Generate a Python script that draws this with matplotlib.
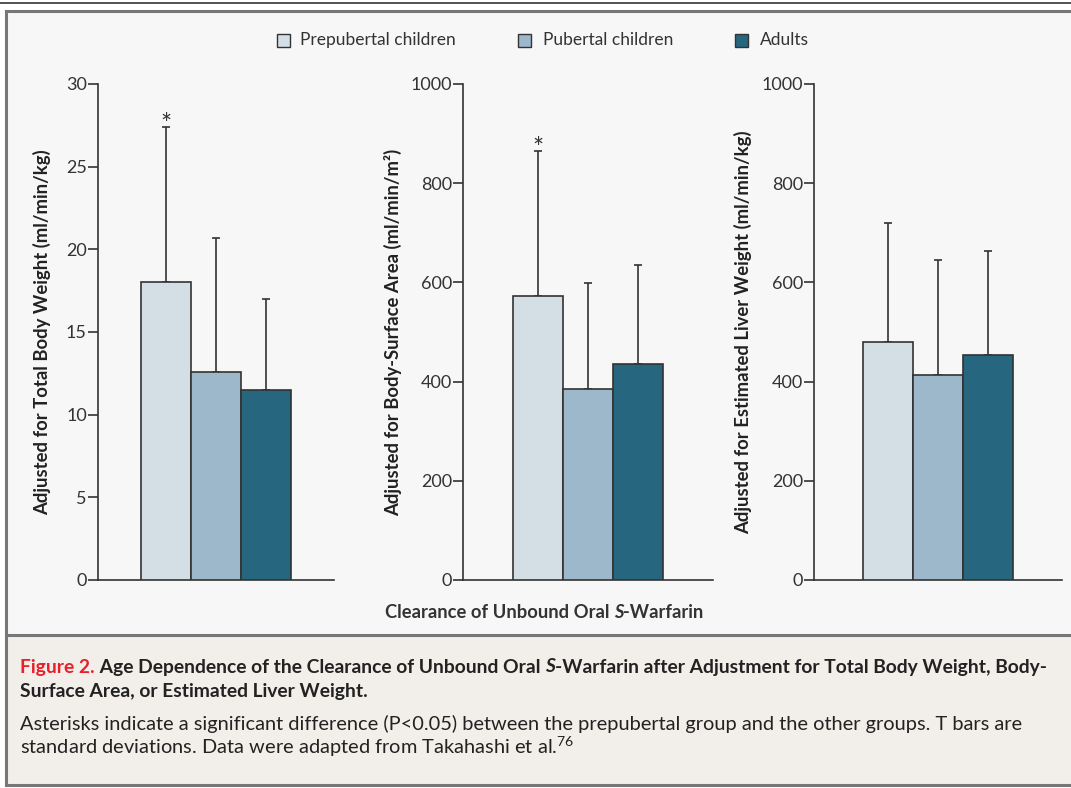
import matplotlib
matplotlib.use("Agg")
import matplotlib.pyplot as plt
from matplotlib.patches import Rectangle
from matplotlib.lines import Line2D

plt.rcParams["font.family"] = ["Lato", "DejaVu Sans"]
plt.rcParams["mathtext.fontset"] = "custom"
plt.rcParams["mathtext.rm"] = "Lato"
plt.rcParams["mathtext.it"] = "Lato:italic"
plt.rcParams["mathtext.bf"] = "Lato:bold"

groups = ["Prepubertal children", "Pubertal children", "Adults"]
colors = ["#d3dee5", "#9cb8ca", "#26677f"]

body_weight_mean = [18.0, 12.6, 11.5]
body_weight_sd = [9.4, 8.1, 5.5]
surface_area_mean = [572, 385, 436]
surface_area_sd = [292, 213, 200]
liver_weight_mean = [479, 414, 454]
liver_weight_sd = [240, 232, 210]

ylabels = [
    "Adjusted for Total Body Weight (ml/min/kg)",
    "Adjusted for Body-Surface Area (ml/min/m²)",
    "Adjusted for Estimated Liver Weight (ml/min/kg)",
]
yticks = [[0, 5, 10, 15, 20, 25, 30], [0, 200, 400, 600, 800, 1000], [0, 200, 400, 600, 800, 1000]]
ylims = [30, 1000, 1000]
significant = [True, True, False]

W, H = 1071, 788
fig = plt.figure(figsize=(W / 100, H / 100), dpi=100)
fig.patch.set_facecolor("white")
renderer = fig.canvas.get_renderer()


def px(x0, y0, x1, y1):
    # pixel box -> figure fraction [left, bottom, width, height]
    return [x0 / W, 1 - y1 / H, (x1 - x0) / W, (y1 - y0) / H]


def text_run(x, y, pieces, center=False, **kw):
    # draw (string, style, color) pieces one after another, x/y in pixels
    texts = [fig.text(0, 1 - y / H, s, ha="left", va="center", style=st, color=c, **kw)
             for s, st, c in pieces]
    widths = [t.get_window_extent(renderer).width for t in texts]
    xpos = x - sum(widths) / 2 if center else x
    for t, w in zip(texts, widths):
        t.set_x(xpos / W)
        xpos += w
    return xpos


# frame and backgrounds (behind the axes)
fig.add_artist(Line2D([0, 1], [1 - 3 / H] * 2, color="#333333", lw=1.2, zorder=-5))
fig.add_artist(Rectangle((6 / W, 1 - 635 / H), 1.2, (635 - 11) / H,
                         facecolor="#f7f7f7", edgecolor="none", zorder=-10))
fig.add_artist(Rectangle((6 / W, 1 - 785 / H), 1.2, (785 - 635) / H,
                         facecolor="#f2eee9", edgecolor="none", zorder=-10))
for yy in [11, 635, 785]:
    fig.add_artist(Line2D([6 / W, 1], [1 - yy / H] * 2, color="#777777", lw=2.2, zorder=-5))
fig.add_artist(Line2D([6 / W] * 2, [1 - 785 / H, 1 - 11 / H], color="#777777", lw=2.2, zorder=-5))

# panel boxes in pixels: axis x, axis right end, first bar left edge
panels = [(98, 334, 141), (463, 713, 513), (814, 1062, 863)]
means = [body_weight_mean, surface_area_mean, liver_weight_mean]
sds = [body_weight_sd, surface_area_sd, liver_weight_sd]
label_x = [42, 393, 743]

for i, (ax_l, ax_r, bar_l) in enumerate(panels):
    ax = fig.add_axes(px(ax_l, 84, ax_r, 580))
    ax.set_facecolor("none")
    bw = 50.0
    xl = -0.5 - (bar_l - ax_l) / bw
    xr = xl + (ax_r - ax_l) / bw
    x = range(3)
    ax.bar(x, means[i], width=1.0, color=colors, edgecolor="#333333", linewidth=1.2, zorder=3)
    ax.errorbar(x, means[i], yerr=[[0, 0, 0], sds[i]], fmt="none", ecolor="#333333",
                elinewidth=1.2, capsize=3, capthick=1.2, zorder=2)
    if significant[i]:
        top = means[i][0] + sds[i][0]
        ax.annotate("*", (0, top), xytext=(0, -4), textcoords="offset points",
                    ha="center", va="baseline", fontsize=19, color="#333333")
    ax.set_xlim(xl, xr)
    ax.set_ylim(0, ylims[i])
    ax.set_yticks(yticks[i])
    ax.set_xticks([])
    for s in ["top", "right"]:
        ax.spines[s].set_visible(False)
    for s in ["left", "bottom"]:
        ax.spines[s].set_color("#333333")
        ax.spines[s].set_linewidth(1.2)
    ax.tick_params(axis="y", length=7, width=1.2, color="#333333", labelsize=13,
                   labelcolor="#333333", pad=1)
    fig.text(label_x[i] / W, 1 - 332 / H, ylabels[i], rotation=90, ha="center", va="center",
             fontsize=13.3, fontweight="bold", color="#222222")

# legend
leg_items = [(277, 300), (518, 543), (735, 760)]
for (sx, tx), g, c in zip(leg_items, groups, colors):
    fig.add_artist(Rectangle((sx / W, 1 - 47 / H), 13 / W, 13 / H, facecolor=c,
                             edgecolor="#333333", lw=1.0))
    fig.text(tx / W, 1 - 40 / H, g, ha="left", va="center", fontsize=12.5, color="#333333")

# x title with italic S
text_run(544, 612, [("Clearance of Unbound Oral ", "normal", "#333333"),
                    ("S", "italic", "#333333"),
                    ("-Warfarin", "normal", "#333333")],
         center=True, fontsize=13.2, fontweight="bold")

# caption
text_run(20, 667, [("Figure 2.", "normal", "#e8202a"),
                   (" Age Dependence of the Clearance of Unbound Oral ", "normal", "#222222"),
                   ("S", "italic", "#222222"),
                   ("-Warfarin after Adjustment for Total Body Weight, Body-", "normal", "#222222")],
         fontsize=13.9, fontweight="bold")
fig.text(20 / W, 1 - 692 / H, "Surface Area, or Estimated Liver Weight.",
         ha="left", va="center", fontsize=13.9, fontweight="bold", color="#222222")
fig.text(20 / W, 1 - 724 / H,
         "Asterisks indicate a significant difference (P<0.05) between the prepubertal group and the other groups. T bars are",
         ha="left", va="center", fontsize=14.4, color="#222222")
fig.text(20 / W, 1 - 747 / H, "standard deviations. Data were adapted from Takahashi et al.$^{76}$",
         ha="left", va="center", fontsize=14.4, color="#222222")

fig.savefig("out.png", dpi=100)
